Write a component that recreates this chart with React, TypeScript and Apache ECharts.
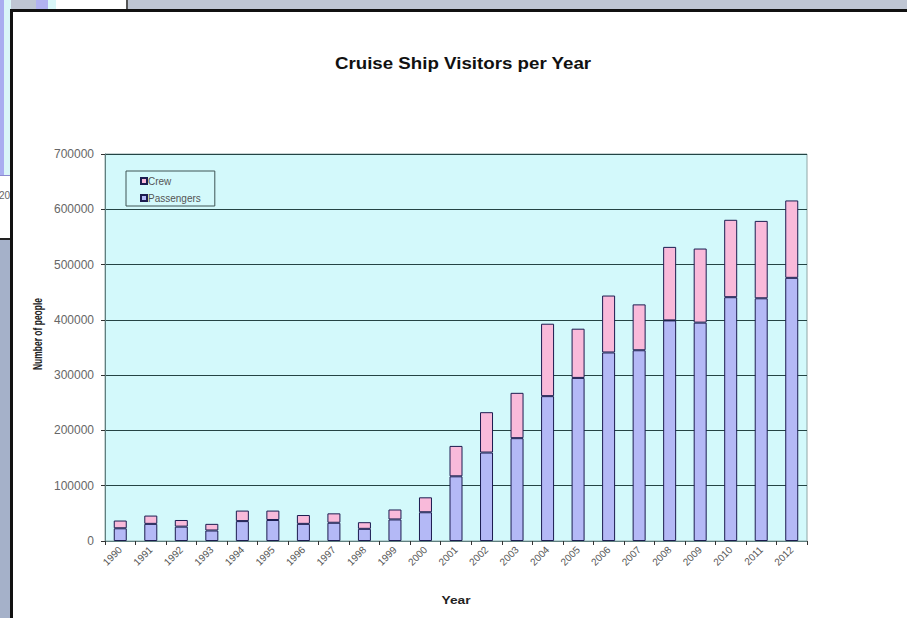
import React, { useEffect, useRef } from "react";
import * as echarts from "echarts";

const years = ["1990","1991","1992","1993","1994","1995","1996","1997","1998","1999","2000","2001","2002","2003","2004","2005","2006","2007","2008","2009","2010","2011","2012"];
const passengers = [23000,31000,26000,19000,36000,38000,31000,33000,22000,39000,52000,117000,160000,186000,262000,295000,341000,345000,399000,395000,441000,439000,476000];
const crew = [14000,15000,12000,12000,19000,17000,16000,17000,12000,18000,27000,55000,73000,82000,131000,89000,103000,83000,133000,134000,140000,140000,140000];
const yTicks = { min: 0, max: 700000, interval: 100000 };

const FONT = "'Liberation Sans', Arial, sans-serif";

export default function App() {
  const ref = useRef<HTMLDivElement>(null);
  useEffect(() => {
    if (!ref.current) return;
    const chart = echarts.init(ref.current, null, { renderer: "svg" });
    chart.setOption({
      animation: false,
      backgroundColor: "#ffffff",
      textStyle: { fontFamily: FONT },
      grid: {
        left: 105, right: 100, top: 154, bottom: 77,
        show: true, backgroundColor: "#d3f9fb", borderColor: "#8fa6a6", borderWidth: 1,
      },
      legend: {
        data: ["Crew", "Passengers"],
        orient: "vertical",
        left: 126, top: 171,
        padding: [5, 14, 3, 14],
        itemWidth: 6, itemHeight: 6, itemGap: 7,
        icon: "rect",
        borderColor: "#3e5454", borderWidth: 1,
        backgroundColor: "#d3f9fb",
        textStyle: { fontSize: 10, color: "#555", fontFamily: FONT, padding: [0, 0, 0, -4] },
      },
      xAxis: {
        type: "category",
        data: years,
        boundaryGap: true,
        axisLine: { lineStyle: { color: "#5f7f7f", width: 1 } },
        axisTick: { show: true, length: 4, lineStyle: { color: "#333" } },
        axisLabel: { rotate: 45, fontSize: 10, color: "#555", margin: 7, interval: 0 },
        splitLine: { show: false },
      },
      yAxis: {
        type: "value",
        min: yTicks.min, max: yTicks.max, interval: yTicks.interval,
        axisLine: { show: true, lineStyle: { color: "#5f7f7f", width: 1 } },
        axisTick: { show: true, length: 4, lineStyle: { color: "#333" } },
        axisLabel: { fontSize: 12, color: "#666", margin: 11, formatter: (v: number) => String(v) },
        splitLine: { show: true, lineStyle: { color: "#244444", width: 1 } },
      },
      series: [
        {
          name: "Passengers", type: "bar", stack: "total", data: passengers, barWidth: 13,
          itemStyle: { color: "#b4b9f6", borderColor: "#1c1c50", borderWidth: 1 },
        },
        {
          name: "Crew", type: "bar", stack: "total", data: crew, barWidth: 13,
          itemStyle: { color: "#f9bada", borderColor: "#1c1c50", borderWidth: 1 },
        },
      ],
      graphic: [
        { type: "rect", shape: { x: 0, y: 0, width: 907, height: 9 }, style: { fill: "#bfc6d3" } },
        { type: "rect", shape: { x: 0, y: 0, width: 4, height: 176 }, style: { fill: "#a9aef0" } },
        { type: "rect", shape: { x: 4, y: 0, width: 7, height: 176 }, style: { fill: "#d9f6f8" } },
        { type: "rect", shape: { x: 36, y: 0, width: 12, height: 9 }, style: { fill: "#b2b2f0" } },
        { type: "rect", shape: { x: 48, y: 0, width: 8, height: 9 }, style: { fill: "#d9f6f8" } },
        { type: "rect", shape: { x: 56, y: 0, width: 70, height: 9 }, style: { fill: "#ffffff" } },
        { type: "rect", shape: { x: 126, y: 0, width: 2, height: 9 }, style: { fill: "#555555" } },
        { type: "rect", shape: { x: 0, y: 176, width: 11, height: 63 }, style: { fill: "#ffffff" } },
        { type: "rect", shape: { x: 0, y: 175, width: 11, height: 1 }, style: { fill: "#8a8ad0" } },
        { type: "text", x: -1, y: 190, style: { text: "20", fontSize: 10, fill: "#666", fontFamily: FONT } },
        { type: "rect", shape: { x: 0, y: 238, width: 11, height: 2 }, style: { fill: "#222" } },
        { type: "rect", shape: { x: 0, y: 240, width: 11, height: 378 }, style: { fill: "#a5b1c9" } },
        { type: "rect", shape: { x: 11, y: 9, width: 896, height: 3 }, style: { fill: "#111" } },
        { type: "rect", shape: { x: 10, y: 9, width: 3, height: 609 }, style: { fill: "#111" } },
        {
          type: "text", x: 463, y: 63, scaleX: 1.17,
          style: { text: "Cruise Ship Visitors per Year", fontSize: 16, fontWeight: "bold", fill: "#111", fontFamily: FONT, textAlign: "center", textVerticalAlign: "middle" },
        },
        {
          type: "text", x: 37, y: 334, rotation: Math.PI / 2, scaleX: 0.85, scaleY: 1.25,
          style: { text: "Number of people", fontSize: 10, fontWeight: "bold", fill: "#222", fontFamily: FONT, textAlign: "center", textVerticalAlign: "middle" },
        },
        {
          type: "text", x: 456, y: 600, scaleX: 1.25,
          style: { text: "Year", fontSize: 11, fontWeight: "bold", fill: "#222", fontFamily: FONT, textAlign: "center", textVerticalAlign: "middle" },
        },
      ],
    });
    return () => chart.dispose();
  }, []);
  return <div ref={ref} style={{ position: "fixed", left: 0, top: 0, width: 907, height: 618 }} />;
}
